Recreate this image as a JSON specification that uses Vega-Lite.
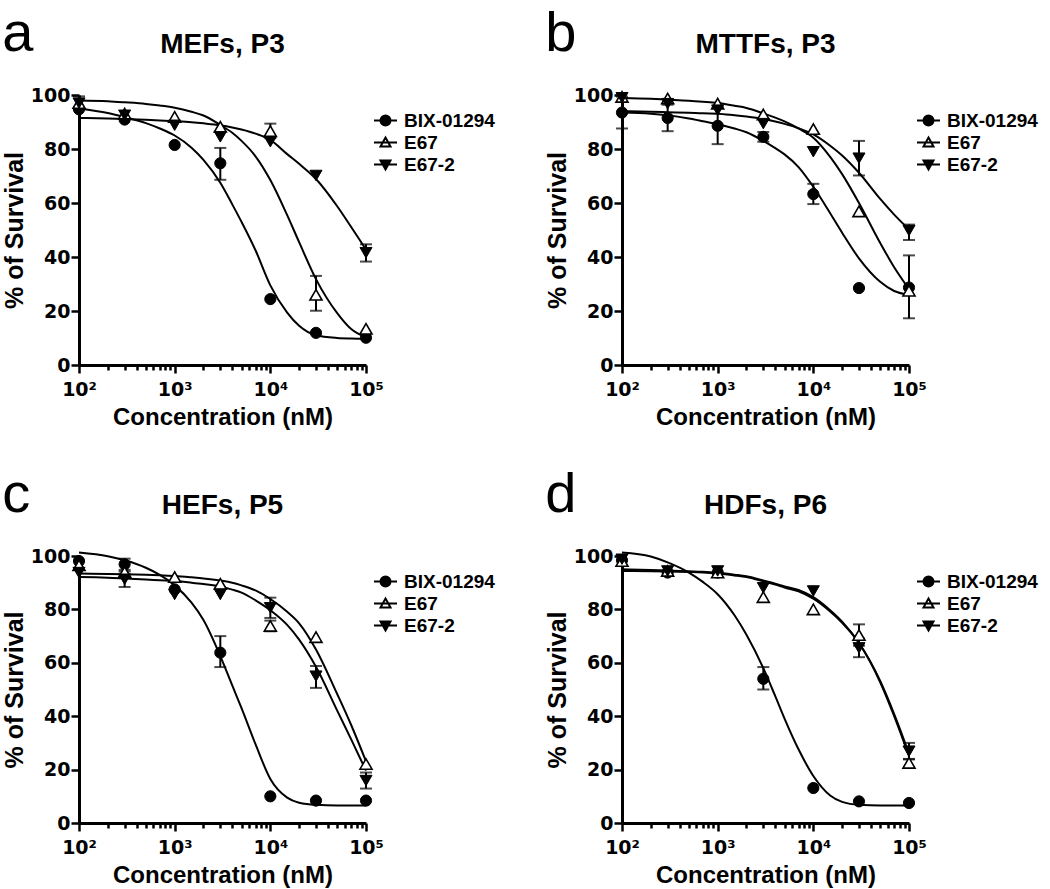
{
"$schema": "https://vega.github.io/schema/vega-lite/v6.json",
"background": "white",
"padding": {"left": 2, "top": 6, "right": 2, "bottom": 2},
"config": {
  "font": "Liberation Sans",
  "view": {"stroke": null},
  "axis": {"domainColor": "black", "domainWidth": 3, "tickColor": "black", "tickWidth": 2.5, "labelColor": "black", "labelFont": "DejaVu Sans", "labelFontSize": 19, "labelFontWeight": "bold", "titleColor": "black", "titleFont": "Liberation Sans", "titleFontWeight": "bold", "grid": false},
  "axisX": {"titleFontSize": 24},
  "axisY": {"titleFontSize": 25},
  "title": {"color": "black", "font": "Liberation Sans"},
  "legend": {"title": null, "orient": "right", "offset": -10, "padding": 16, "symbolSize": 100, "symbolStrokeWidth": 2, "symbolStrokeColor": "black", "labelFontSize": 19, "labelFontWeight": "bold", "labelFont": "Liberation Sans", "labelColor": "black", "labelOffset": 9, "rowPadding": 2, "symbolOpacity": 1}
},
"datasets": {
"pts": [
{"p":"a","s":"BIX-01294","x":100,"y":94.7},{"p":"a","s":"BIX-01294","x":300,"y":90.9},{"p":"a","s":"BIX-01294","x":1000,"y":81.5},{"p":"a","s":"BIX-01294","x":3000,"y":74.7,"lo":68.6,"hi":80.4},{"p":"a","s":"BIX-01294","x":10000,"y":24.4},{"p":"a","s":"BIX-01294","x":30000,"y":11.9},{"p":"a","s":"BIX-01294","x":100000,"y":10.1},
{"p":"a","s":"E67","x":100,"y":97},{"p":"a","s":"E67","x":300,"y":93.1},{"p":"a","s":"E67","x":1000,"y":91.9},{"p":"a","s":"E67","x":3000,"y":88.2},{"p":"a","s":"E67","x":10000,"y":86.6,"lo":84,"hi":89.4},{"p":"a","s":"E67","x":30000,"y":26,"lo":20.1,"hi":33},{"p":"a","s":"E67","x":100000,"y":13.4},
{"p":"a","s":"E67-2","x":100,"y":97,"lo":94.5,"hi":99.5},{"p":"a","s":"E67-2","x":300,"y":92.5},{"p":"a","s":"E67-2","x":1000,"y":88.8},{"p":"a","s":"E67-2","x":3000,"y":84.5},{"p":"a","s":"E67-2","x":10000,"y":82.7},{"p":"a","s":"E67-2","x":30000,"y":70.2},{"p":"a","s":"E67-2","x":100000,"y":41.6,"lo":38.3,"hi":44.7},
{"p":"b","s":"BIX-01294","x":100,"y":93.5,"lo":87.6,"hi":99.4},{"p":"b","s":"BIX-01294","x":300,"y":91.5,"lo":86.6,"hi":96.4},{"p":"b","s":"BIX-01294","x":1000,"y":88.6,"lo":81.8,"hi":95.4},{"p":"b","s":"BIX-01294","x":3000,"y":84.5,"lo":82.7,"hi":86.3},{"p":"b","s":"BIX-01294","x":10000,"y":63.3,"lo":59.6,"hi":67.1},{"p":"b","s":"BIX-01294","x":30000,"y":28.5},{"p":"b","s":"BIX-01294","x":100000,"y":28.7,"lo":17.3,"hi":40.6},
{"p":"b","s":"E67","x":100,"y":99.3},{"p":"b","s":"E67","x":300,"y":98.7},{"p":"b","s":"E67","x":1000,"y":96.8},{"p":"b","s":"E67","x":3000,"y":92.8},{"p":"b","s":"E67","x":10000,"y":87.4},{"p":"b","s":"E67","x":30000,"y":56.9},{"p":"b","s":"E67","x":100000,"y":27.5},
{"p":"b","s":"E67-2","x":100,"y":99},{"p":"b","s":"E67-2","x":300,"y":96.8},{"p":"b","s":"E67-2","x":1000,"y":94.4},{"p":"b","s":"E67-2","x":3000,"y":89.4},{"p":"b","s":"E67-2","x":10000,"y":79},{"p":"b","s":"E67-2","x":30000,"y":76.6,"lo":70.2,"hi":83},{"p":"b","s":"E67-2","x":100000,"y":49.8,"lo":46.3,"hi":52},
{"p":"c","s":"BIX-01294","x":100,"y":98.1},{"p":"c","s":"BIX-01294","x":300,"y":96.9,"lo":94.8,"hi":99},{"p":"c","s":"BIX-01294","x":1000,"y":87.5},{"p":"c","s":"BIX-01294","x":3000,"y":63.8,"lo":58.4,"hi":70},{"p":"c","s":"BIX-01294","x":10000,"y":10},{"p":"c","s":"BIX-01294","x":30000,"y":8.4},{"p":"c","s":"BIX-01294","x":100000,"y":8.4},
{"p":"c","s":"E67","x":100,"y":96.5},{"p":"c","s":"E67","x":300,"y":94},{"p":"c","s":"E67","x":1000,"y":92.1},{"p":"c","s":"E67","x":3000,"y":89.6},{"p":"c","s":"E67","x":10000,"y":73.8,"lo":71.8,"hi":75.8},{"p":"c","s":"E67","x":30000,"y":69.6},{"p":"c","s":"E67","x":100000,"y":22.1},
{"p":"c","s":"E67-2","x":100,"y":93.8},{"p":"c","s":"E67-2","x":300,"y":91.3,"lo":88.4,"hi":94.2},{"p":"c","s":"E67-2","x":1000,"y":85.6},{"p":"c","s":"E67-2","x":3000,"y":85.6},{"p":"c","s":"E67-2","x":10000,"y":80.6,"lo":76.8,"hi":84.4},{"p":"c","s":"E67-2","x":30000,"y":55,"lo":50.6,"hi":58.8},{"p":"c","s":"E67-2","x":100000,"y":15.9,"lo":12.9,"hi":18.9},
{"p":"d","s":"BIX-01294","x":100,"y":98.4},{"p":"d","s":"BIX-01294","x":300,"y":93.8},{"p":"d","s":"BIX-01294","x":1000,"y":93.8},{"p":"d","s":"BIX-01294","x":3000,"y":54,"lo":50,"hi":58.4},{"p":"d","s":"BIX-01294","x":10000,"y":13.1},{"p":"d","s":"BIX-01294","x":30000,"y":8.1},{"p":"d","s":"BIX-01294","x":100000,"y":7.5},
{"p":"d","s":"E67","x":100,"y":98.1},{"p":"d","s":"E67","x":300,"y":94.4},{"p":"d","s":"E67","x":1000,"y":93.8},{"p":"d","s":"E67","x":3000,"y":84.6},{"p":"d","s":"E67","x":10000,"y":80},{"p":"d","s":"E67","x":30000,"y":70.4,"lo":66.4,"hi":74.4},{"p":"d","s":"E67","x":100000,"y":22.5,"lo":21,"hi":24},
{"p":"d","s":"E67-2","x":100,"y":98.8},{"p":"d","s":"E67-2","x":300,"y":94.4},{"p":"d","s":"E67-2","x":1000,"y":94.4},{"p":"d","s":"E67-2","x":3000,"y":88.1},{"p":"d","s":"E67-2","x":10000,"y":86.9},{"p":"d","s":"E67-2","x":30000,"y":65.6,"lo":62.1,"hi":69.1},{"p":"d","s":"E67-2","x":100000,"y":26.9,"lo":23.8,"hi":30}
],
"curves": [
{"p":"a","x":100,"BIX-01294":95.0,"E67":98,"E67-2":91.5},{"p":"a","x":200,"BIX-01294":93.3,"E67":97.7,"E67-2":91.3},{"p":"a","x":300,"BIX-01294":91.8,"E67":97.3,"E67-2":91.1},{"p":"a","x":500,"BIX-01294":89.6,"E67":96.7,"E67-2":90.8},{"p":"a","x":700,"BIX-01294":87.6,"E67":96.1,"E67-2":90.6},{"p":"a","x":1000,"BIX-01294":85,"E67":95.3,"E67-2":90.3},{"p":"a","x":1500,"BIX-01294":80.5,"E67":93.8,"E67-2":89.9},{"p":"a","x":2000,"BIX-01294":76,"E67":92.4,"E67-2":89.5},{"p":"a","x":3000,"BIX-01294":67.5,"E67":88.9,"E67-2":88.8},{"p":"a","x":4000,"BIX-01294":59.5,"E67":86,"E67-2":88},{"p":"a","x":5000,"BIX-01294":53,"E67":83,"E67-2":87.2},{"p":"a","x":7000,"BIX-01294":42.5,"E67":77.3,"E67-2":85.7},{"p":"a","x":10000,"BIX-01294":29.5,"E67":68.5,"E67-2":83.4},{"p":"a","x":15000,"BIX-01294":19.4,"E67":55.5,"E67-2":78.1},{"p":"a","x":20000,"BIX-01294":14.5,"E67":45.5,"E67-2":74.5},{"p":"a","x":30000,"BIX-01294":11,"E67":31.8,"E67-2":68.9},{"p":"a","x":50000,"BIX-01294":10,"E67":19.2,"E67-2":58.8},{"p":"a","x":70000,"BIX-01294":9.8,"E67":13.3,"E67-2":51.1},{"p":"a","x":100000,"BIX-01294":9.7,"E67":10.2,"E67-2":42.8},
{"p":"b","x":100,"BIX-01294":93.5,"E67":98.9,"E67-2":94},{"p":"b","x":200,"BIX-01294":93.1,"E67":98.6,"E67-2":93.8},{"p":"b","x":300,"BIX-01294":92.5,"E67":98.3,"E67-2":93.6},{"p":"b","x":500,"BIX-01294":91.3,"E67":97.9,"E67-2":93.4},{"p":"b","x":700,"BIX-01294":90.3,"E67":97.5,"E67-2":93.2},{"p":"b","x":1000,"BIX-01294":89.2,"E67":97,"E67-2":93.1},{"p":"b","x":1500,"BIX-01294":87.6,"E67":96,"E67-2":92.5},{"p":"b","x":2000,"BIX-01294":86.2,"E67":95.2,"E67-2":92},{"p":"b","x":3000,"BIX-01294":83,"E67":93.2,"E67-2":91.1},{"p":"b","x":4000,"BIX-01294":80.3,"E67":91.6,"E67-2":90.2},{"p":"b","x":5000,"BIX-01294":78,"E67":90.2,"E67-2":89.3},{"p":"b","x":7000,"BIX-01294":73.3,"E67":87.6,"E67-2":87.7},{"p":"b","x":10000,"BIX-01294":66,"E67":84.2,"E67-2":85.4},{"p":"b","x":15000,"BIX-01294":56.2,"E67":77.1,"E67-2":81.2},{"p":"b","x":20000,"BIX-01294":49,"E67":70.7,"E67-2":77.6},{"p":"b","x":30000,"BIX-01294":39.5,"E67":60,"E67-2":71.2},{"p":"b","x":50000,"BIX-01294":30.8,"E67":45.2,"E67-2":61.5},{"p":"b","x":70000,"BIX-01294":27.4,"E67":36.2,"E67-2":55.7},{"p":"b","x":100000,"BIX-01294":26,"E67":28.1,"E67-2":50.2},
{"p":"c","x":100,"BIX-01294":101.3,"E67":93.4,"E67-2":92.1},{"p":"c","x":200,"BIX-01294":99.9,"E67":93.3,"E67-2":91.9},{"p":"c","x":300,"BIX-01294":98.4,"E67":93.2,"E67-2":91.6},{"p":"c","x":500,"BIX-01294":95.6,"E67":93,"E67-2":91.2},{"p":"c","x":700,"BIX-01294":92.9,"E67":92.8,"E67-2":90.9},{"p":"c","x":1000,"BIX-01294":89,"E67":92.5,"E67-2":90.6},{"p":"c","x":1500,"BIX-01294":82.5,"E67":92,"E67-2":90},{"p":"c","x":2000,"BIX-01294":76,"E67":91.6,"E67-2":89.5},{"p":"c","x":3000,"BIX-01294":62.5,"E67":90.8,"E67-2":88.6},{"p":"c","x":4000,"BIX-01294":51.5,"E67":90,"E67-2":87.4},{"p":"c","x":5000,"BIX-01294":43,"E67":89,"E67-2":86.3},{"p":"c","x":7000,"BIX-01294":29.5,"E67":87.1,"E67-2":83.4},{"p":"c","x":10000,"BIX-01294":16.5,"E67":83.9,"E67-2":79.7},{"p":"c","x":15000,"BIX-01294":9.5,"E67":79.1,"E67-2":74.2},{"p":"c","x":20000,"BIX-01294":7.6,"E67":74.8,"E67-2":68.7},{"p":"c","x":30000,"BIX-01294":6.8,"E67":65,"E67-2":58.5},{"p":"c","x":50000,"BIX-01294":6.6,"E67":48.3,"E67-2":42.1},{"p":"c","x":70000,"BIX-01294":6.6,"E67":36.7,"E67-2":31.3},{"p":"c","x":100000,"BIX-01294":6.6,"E67":23.1,"E67-2":19.6},
{"p":"d","x":100,"BIX-01294":101.3,"E67":94.4,"E67-2":95},{"p":"d","x":200,"BIX-01294":99.8,"E67":94.3,"E67-2":94.8},{"p":"d","x":300,"BIX-01294":97.6,"E67":94.2,"E67-2":94.6},{"p":"d","x":500,"BIX-01294":93.8,"E67":94,"E67-2":94.3},{"p":"d","x":700,"BIX-01294":90.3,"E67":93.8,"E67-2":94.1},{"p":"d","x":1000,"BIX-01294":85.7,"E67":93.4,"E67-2":93.7},{"p":"d","x":1500,"BIX-01294":77.8,"E67":92.7,"E67-2":93},{"p":"d","x":2000,"BIX-01294":70.5,"E67":92.1,"E67-2":92.4},{"p":"d","x":3000,"BIX-01294":58,"E67":90.5,"E67-2":90.8},{"p":"d","x":4000,"BIX-01294":47.5,"E67":89.3,"E67-2":89.6},{"p":"d","x":5000,"BIX-01294":39.1,"E67":88.2,"E67-2":88.6},{"p":"d","x":7000,"BIX-01294":27.6,"E67":86.8,"E67-2":87.3},{"p":"d","x":10000,"BIX-01294":17.6,"E67":84,"E67-2":84.6},{"p":"d","x":15000,"BIX-01294":10.3,"E67":79.2,"E67-2":79.7},{"p":"d","x":20000,"BIX-01294":7.9,"E67":75,"E67-2":75.4},{"p":"d","x":30000,"BIX-01294":6.8,"E67":67.4,"E67-2":67.4},{"p":"d","x":50000,"BIX-01294":6.6,"E67":53.2,"E67-2":52.7},{"p":"d","x":70000,"BIX-01294":6.6,"E67":40.8,"E67-2":40},{"p":"d","x":100000,"BIX-01294":6.6,"E67":26,"E67-2":25}
]
},
"spacing": 38,
"resolve": {"scale": {"shape": "independent", "fill": "independent"}},
"vconcat": [
{"hconcat": [
{"title": {"text": "a", "anchor": "start", "fontSize": 56, "fontWeight": "normal", "offset": -32},
 "resolve": {"scale": {"shape": "independent", "fill": "independent"}},
 "vconcat": [{
  "width": 287, "height": 270,
  "title": {"text": "MEFs, P3", "anchor": "middle", "frame": "group", "fontSize": 28, "fontWeight": "bold", "offset": 27},
  "layer": [
   {"data": {"name": "curves"}, "transform": [{"filter": "datum.p === 'a'"}, {"fold": ["BIX-01294", "E67", "E67-2"], "as": ["s", "v"]}],
    "mark": {"type": "line", "interpolate": "monotone", "color": "black", "strokeWidth": 2},
    "encoding": {
     "x": {"field": "x", "type": "quantitative", "title": "Concentration (nM)", "scale": {"type": "log", "domain": [100, 100000], "nice": false}, "axis": {"values": [100,200,300,400,500,600,700,800,900,1000,2000,3000,4000,5000,6000,7000,8000,9000,10000,20000,30000,40000,50000,60000,70000,80000,90000,100000], "labelExpr": "datum.value == 100 ? '10²' : datum.value == 1000 ? '10³' : datum.value == 10000 ? '10⁴' : datum.value == 100000 ? '10⁵' : ''", "labelOverlap": false, "labelFlush": false, "tickSize": {"condition": {"test": "datum.value == 100 || datum.value == 1000 || datum.value == 10000 || datum.value == 100000", "value": 8}, "value": 5}, "labelPadding": 7, "titlePadding": 6}},
     "y": {"field": "v", "type": "quantitative", "title": "% of Survival", "scale": {"domain": [0, 100], "nice": false}, "axis": {"values": [0, 20, 40, 60, 80, 100], "tickSize": 8, "labelPadding": 1, "titlePadding": 3}},
     "detail": {"field": "s"}}},
   {"data": {"name": "pts"}, "transform": [{"filter": "datum.p === 'a' && isValid(datum.lo)"}],
    "mark": {"type": "errorbar", "ticks": {"size": 12, "thickness": 2, "color": "black"}, "rule": {"strokeWidth": 2, "color": "black"}},
    "encoding": {"x": {"field": "x", "type": "quantitative", "title": "Concentration (nM)"}, "y": {"field": "lo", "type": "quantitative", "title": "% of Survival"}, "y2": {"field": "hi"}}},
   {"data": {"name": "pts"}, "transform": [{"filter": "datum.p === 'a' && datum.s === 'BIX-01294'"}],
    "mark": {"type": "point", "shape": "circle", "filled": true, "fill": "black", "stroke": "black", "strokeWidth": 1, "size": 125, "opacity": 1},
    "encoding": {"x": {"field": "x", "type": "quantitative", "title": "Concentration (nM)"}, "y": {"field": "y", "type": "quantitative", "title": "% of Survival"}}},
   {"data": {"name": "pts"}, "transform": [{"filter": "datum.p === 'a' && datum.s === 'E67'"}],
    "mark": {"type": "point", "shape": "triangle-up", "filled": true, "fill": "white", "stroke": "black", "strokeWidth": 1.6, "size": 145, "opacity": 1},
    "encoding": {"x": {"field": "x", "type": "quantitative", "title": "Concentration (nM)"}, "y": {"field": "y", "type": "quantitative", "title": "% of Survival"}}},
   {"data": {"name": "pts"}, "transform": [{"filter": "datum.p === 'a' && datum.s === 'E67-2'"}],
    "mark": {"type": "point", "shape": "triangle-down", "filled": true, "fill": "black", "stroke": "black", "strokeWidth": 1, "size": 145, "opacity": 1},
    "encoding": {"x": {"field": "x", "type": "quantitative", "title": "Concentration (nM)"}, "y": {"field": "y", "type": "quantitative", "title": "% of Survival"}}},
   {"data": {"name": "pts"}, "transform": [{"filter": "false"}],
    "mark": {"type": "point", "filled": false, "color": "black", "stroke": "black", "strokeWidth": 2, "opacity": 1},
    "encoding": {"x": {"field": "x", "type": "quantitative", "title": "Concentration (nM)"}, "y": {"field": "y", "type": "quantitative", "title": "% of Survival"},
     "shape": {"field": "s", "type": "nominal", "scale": {"domain": ["BIX-01294", "E67", "E67-2"], "range": ["M-2.3,0L2.3,0M1,0A1,1,0,1,1,-1,0A1,1,0,1,1,1,0Z", "M-2.3,0L2.3,0M0,-1L1,0.8L-1,0.8Z", "M-2.3,0L2.3,0M0,1L1,-0.8L-1,-0.8Z"]}, "legend": {"encode": {"symbols": {"update": {"stroke": {"value": "black"}, "strokeWidth": {"value": 2}}}}}},
     "fill": {"field": "s", "type": "nominal", "scale": {"domain": ["BIX-01294", "E67", "E67-2"], "range": ["black", "white", "black"]}, "legend": {"encode": {"symbols": {"update": {"stroke": {"value": "black"}, "strokeWidth": {"value": 2}}}}}}}}
  ]
 }]
},
{"title": {"text": "b", "anchor": "start", "fontSize": 56, "fontWeight": "normal", "offset": -32},
 "resolve": {"scale": {"shape": "independent", "fill": "independent"}},
 "vconcat": [{
  "width": 287, "height": 270,
  "title": {"text": "MTTFs, P3", "anchor": "middle", "frame": "group", "fontSize": 28, "fontWeight": "bold", "offset": 27},
  "layer": [
   {"data": {"name": "curves"}, "transform": [{"filter": "datum.p === 'b'"}, {"fold": ["BIX-01294", "E67", "E67-2"], "as": ["s", "v"]}],
    "mark": {"type": "line", "interpolate": "monotone", "color": "black", "strokeWidth": 2},
    "encoding": {
     "x": {"field": "x", "type": "quantitative", "title": "Concentration (nM)", "scale": {"type": "log", "domain": [100, 100000], "nice": false}, "axis": {"values": [100,200,300,400,500,600,700,800,900,1000,2000,3000,4000,5000,6000,7000,8000,9000,10000,20000,30000,40000,50000,60000,70000,80000,90000,100000], "labelExpr": "datum.value == 100 ? '10²' : datum.value == 1000 ? '10³' : datum.value == 10000 ? '10⁴' : datum.value == 100000 ? '10⁵' : ''", "labelOverlap": false, "labelFlush": false, "tickSize": {"condition": {"test": "datum.value == 100 || datum.value == 1000 || datum.value == 10000 || datum.value == 100000", "value": 8}, "value": 5}, "labelPadding": 7, "titlePadding": 6}},
     "y": {"field": "v", "type": "quantitative", "title": "% of Survival", "scale": {"domain": [0, 100], "nice": false}, "axis": {"values": [0, 20, 40, 60, 80, 100], "tickSize": 8, "labelPadding": 1, "titlePadding": 3}},
     "detail": {"field": "s"}}},
   {"data": {"name": "pts"}, "transform": [{"filter": "datum.p === 'b' && isValid(datum.lo)"}],
    "mark": {"type": "errorbar", "ticks": {"size": 12, "thickness": 2, "color": "black"}, "rule": {"strokeWidth": 2, "color": "black"}},
    "encoding": {"x": {"field": "x", "type": "quantitative", "title": "Concentration (nM)"}, "y": {"field": "lo", "type": "quantitative", "title": "% of Survival"}, "y2": {"field": "hi"}}},
   {"data": {"name": "pts"}, "transform": [{"filter": "datum.p === 'b' && datum.s === 'BIX-01294'"}],
    "mark": {"type": "point", "shape": "circle", "filled": true, "fill": "black", "stroke": "black", "strokeWidth": 1, "size": 125, "opacity": 1},
    "encoding": {"x": {"field": "x", "type": "quantitative", "title": "Concentration (nM)"}, "y": {"field": "y", "type": "quantitative", "title": "% of Survival"}}},
   {"data": {"name": "pts"}, "transform": [{"filter": "datum.p === 'b' && datum.s === 'E67'"}],
    "mark": {"type": "point", "shape": "triangle-up", "filled": true, "fill": "white", "stroke": "black", "strokeWidth": 1.6, "size": 145, "opacity": 1},
    "encoding": {"x": {"field": "x", "type": "quantitative", "title": "Concentration (nM)"}, "y": {"field": "y", "type": "quantitative", "title": "% of Survival"}}},
   {"data": {"name": "pts"}, "transform": [{"filter": "datum.p === 'b' && datum.s === 'E67-2'"}],
    "mark": {"type": "point", "shape": "triangle-down", "filled": true, "fill": "black", "stroke": "black", "strokeWidth": 1, "size": 145, "opacity": 1},
    "encoding": {"x": {"field": "x", "type": "quantitative", "title": "Concentration (nM)"}, "y": {"field": "y", "type": "quantitative", "title": "% of Survival"}}},
   {"data": {"name": "pts"}, "transform": [{"filter": "false"}],
    "mark": {"type": "point", "filled": false, "color": "black", "stroke": "black", "strokeWidth": 2, "opacity": 1},
    "encoding": {"x": {"field": "x", "type": "quantitative", "title": "Concentration (nM)"}, "y": {"field": "y", "type": "quantitative", "title": "% of Survival"},
     "shape": {"field": "s", "type": "nominal", "scale": {"domain": ["BIX-01294", "E67", "E67-2"], "range": ["M-2.3,0L2.3,0M1,0A1,1,0,1,1,-1,0A1,1,0,1,1,1,0Z", "M-2.3,0L2.3,0M0,-1L1,0.8L-1,0.8Z", "M-2.3,0L2.3,0M0,1L1,-0.8L-1,-0.8Z"]}, "legend": {"encode": {"symbols": {"update": {"stroke": {"value": "black"}, "strokeWidth": {"value": 2}}}}}},
     "fill": {"field": "s", "type": "nominal", "scale": {"domain": ["BIX-01294", "E67", "E67-2"], "range": ["black", "white", "black"]}, "legend": {"encode": {"symbols": {"update": {"stroke": {"value": "black"}, "strokeWidth": {"value": 2}}}}}}}}
  ]
 }]
}
], "spacing": 34, "resolve": {"scale": {"shape": "independent", "fill": "independent"}}},
{"hconcat": [
{"title": {"text": "c", "anchor": "start", "fontSize": 56, "fontWeight": "normal", "offset": -32},
 "resolve": {"scale": {"shape": "independent", "fill": "independent"}},
 "vconcat": [{
  "width": 287, "height": 267,
  "title": {"text": "HEFs, P5", "anchor": "middle", "frame": "group", "fontSize": 28, "fontWeight": "bold", "offset": 27},
  "layer": [
   {"data": {"name": "curves"}, "transform": [{"filter": "datum.p === 'c'"}, {"fold": ["BIX-01294", "E67", "E67-2"], "as": ["s", "v"]}],
    "mark": {"type": "line", "interpolate": "monotone", "color": "black", "strokeWidth": 2},
    "encoding": {
     "x": {"field": "x", "type": "quantitative", "title": "Concentration (nM)", "scale": {"type": "log", "domain": [100, 100000], "nice": false}, "axis": {"values": [100,200,300,400,500,600,700,800,900,1000,2000,3000,4000,5000,6000,7000,8000,9000,10000,20000,30000,40000,50000,60000,70000,80000,90000,100000], "labelExpr": "datum.value == 100 ? '10²' : datum.value == 1000 ? '10³' : datum.value == 10000 ? '10⁴' : datum.value == 100000 ? '10⁵' : ''", "labelOverlap": false, "labelFlush": false, "tickSize": {"condition": {"test": "datum.value == 100 || datum.value == 1000 || datum.value == 10000 || datum.value == 100000", "value": 8}, "value": 5}, "labelPadding": 7, "titlePadding": 6}},
     "y": {"field": "v", "type": "quantitative", "title": "% of Survival", "scale": {"domain": [0, 100], "nice": false}, "axis": {"values": [0, 20, 40, 60, 80, 100], "tickSize": 8, "labelPadding": 1, "titlePadding": 3}},
     "detail": {"field": "s"}}},
   {"data": {"name": "pts"}, "transform": [{"filter": "datum.p === 'c' && isValid(datum.lo)"}],
    "mark": {"type": "errorbar", "ticks": {"size": 12, "thickness": 2, "color": "black"}, "rule": {"strokeWidth": 2, "color": "black"}},
    "encoding": {"x": {"field": "x", "type": "quantitative", "title": "Concentration (nM)"}, "y": {"field": "lo", "type": "quantitative", "title": "% of Survival"}, "y2": {"field": "hi"}}},
   {"data": {"name": "pts"}, "transform": [{"filter": "datum.p === 'c' && datum.s === 'BIX-01294'"}],
    "mark": {"type": "point", "shape": "circle", "filled": true, "fill": "black", "stroke": "black", "strokeWidth": 1, "size": 125, "opacity": 1},
    "encoding": {"x": {"field": "x", "type": "quantitative", "title": "Concentration (nM)"}, "y": {"field": "y", "type": "quantitative", "title": "% of Survival"}}},
   {"data": {"name": "pts"}, "transform": [{"filter": "datum.p === 'c' && datum.s === 'E67'"}],
    "mark": {"type": "point", "shape": "triangle-up", "filled": true, "fill": "white", "stroke": "black", "strokeWidth": 1.6, "size": 145, "opacity": 1},
    "encoding": {"x": {"field": "x", "type": "quantitative", "title": "Concentration (nM)"}, "y": {"field": "y", "type": "quantitative", "title": "% of Survival"}}},
   {"data": {"name": "pts"}, "transform": [{"filter": "datum.p === 'c' && datum.s === 'E67-2'"}],
    "mark": {"type": "point", "shape": "triangle-down", "filled": true, "fill": "black", "stroke": "black", "strokeWidth": 1, "size": 145, "opacity": 1},
    "encoding": {"x": {"field": "x", "type": "quantitative", "title": "Concentration (nM)"}, "y": {"field": "y", "type": "quantitative", "title": "% of Survival"}}},
   {"data": {"name": "pts"}, "transform": [{"filter": "false"}],
    "mark": {"type": "point", "filled": false, "color": "black", "stroke": "black", "strokeWidth": 2, "opacity": 1},
    "encoding": {"x": {"field": "x", "type": "quantitative", "title": "Concentration (nM)"}, "y": {"field": "y", "type": "quantitative", "title": "% of Survival"},
     "shape": {"field": "s", "type": "nominal", "scale": {"domain": ["BIX-01294", "E67", "E67-2"], "range": ["M-2.3,0L2.3,0M1,0A1,1,0,1,1,-1,0A1,1,0,1,1,1,0Z", "M-2.3,0L2.3,0M0,-1L1,0.8L-1,0.8Z", "M-2.3,0L2.3,0M0,1L1,-0.8L-1,-0.8Z"]}, "legend": {"encode": {"symbols": {"update": {"stroke": {"value": "black"}, "strokeWidth": {"value": 2}}}}}},
     "fill": {"field": "s", "type": "nominal", "scale": {"domain": ["BIX-01294", "E67", "E67-2"], "range": ["black", "white", "black"]}, "legend": {"encode": {"symbols": {"update": {"stroke": {"value": "black"}, "strokeWidth": {"value": 2}}}}}}}}
  ]
 }]
},
{"title": {"text": "d", "anchor": "start", "fontSize": 56, "fontWeight": "normal", "offset": -32},
 "resolve": {"scale": {"shape": "independent", "fill": "independent"}},
 "vconcat": [{
  "width": 287, "height": 267,
  "title": {"text": "HDFs, P6", "anchor": "middle", "frame": "group", "fontSize": 28, "fontWeight": "bold", "offset": 27},
  "layer": [
   {"data": {"name": "curves"}, "transform": [{"filter": "datum.p === 'd'"}, {"fold": ["BIX-01294", "E67", "E67-2"], "as": ["s", "v"]}],
    "mark": {"type": "line", "interpolate": "monotone", "color": "black", "strokeWidth": 2},
    "encoding": {
     "x": {"field": "x", "type": "quantitative", "title": "Concentration (nM)", "scale": {"type": "log", "domain": [100, 100000], "nice": false}, "axis": {"values": [100,200,300,400,500,600,700,800,900,1000,2000,3000,4000,5000,6000,7000,8000,9000,10000,20000,30000,40000,50000,60000,70000,80000,90000,100000], "labelExpr": "datum.value == 100 ? '10²' : datum.value == 1000 ? '10³' : datum.value == 10000 ? '10⁴' : datum.value == 100000 ? '10⁵' : ''", "labelOverlap": false, "labelFlush": false, "tickSize": {"condition": {"test": "datum.value == 100 || datum.value == 1000 || datum.value == 10000 || datum.value == 100000", "value": 8}, "value": 5}, "labelPadding": 7, "titlePadding": 6}},
     "y": {"field": "v", "type": "quantitative", "title": "% of Survival", "scale": {"domain": [0, 100], "nice": false}, "axis": {"values": [0, 20, 40, 60, 80, 100], "tickSize": 8, "labelPadding": 1, "titlePadding": 3}},
     "detail": {"field": "s"}}},
   {"data": {"name": "pts"}, "transform": [{"filter": "datum.p === 'd' && isValid(datum.lo)"}],
    "mark": {"type": "errorbar", "ticks": {"size": 12, "thickness": 2, "color": "black"}, "rule": {"strokeWidth": 2, "color": "black"}},
    "encoding": {"x": {"field": "x", "type": "quantitative", "title": "Concentration (nM)"}, "y": {"field": "lo", "type": "quantitative", "title": "% of Survival"}, "y2": {"field": "hi"}}},
   {"data": {"name": "pts"}, "transform": [{"filter": "datum.p === 'd' && datum.s === 'BIX-01294'"}],
    "mark": {"type": "point", "shape": "circle", "filled": true, "fill": "black", "stroke": "black", "strokeWidth": 1, "size": 125, "opacity": 1},
    "encoding": {"x": {"field": "x", "type": "quantitative", "title": "Concentration (nM)"}, "y": {"field": "y", "type": "quantitative", "title": "% of Survival"}}},
   {"data": {"name": "pts"}, "transform": [{"filter": "datum.p === 'd' && datum.s === 'E67'"}],
    "mark": {"type": "point", "shape": "triangle-up", "filled": true, "fill": "white", "stroke": "black", "strokeWidth": 1.6, "size": 145, "opacity": 1},
    "encoding": {"x": {"field": "x", "type": "quantitative", "title": "Concentration (nM)"}, "y": {"field": "y", "type": "quantitative", "title": "% of Survival"}}},
   {"data": {"name": "pts"}, "transform": [{"filter": "datum.p === 'd' && datum.s === 'E67-2'"}],
    "mark": {"type": "point", "shape": "triangle-down", "filled": true, "fill": "black", "stroke": "black", "strokeWidth": 1, "size": 145, "opacity": 1},
    "encoding": {"x": {"field": "x", "type": "quantitative", "title": "Concentration (nM)"}, "y": {"field": "y", "type": "quantitative", "title": "% of Survival"}}},
   {"data": {"name": "pts"}, "transform": [{"filter": "false"}],
    "mark": {"type": "point", "filled": false, "color": "black", "stroke": "black", "strokeWidth": 2, "opacity": 1},
    "encoding": {"x": {"field": "x", "type": "quantitative", "title": "Concentration (nM)"}, "y": {"field": "y", "type": "quantitative", "title": "% of Survival"},
     "shape": {"field": "s", "type": "nominal", "scale": {"domain": ["BIX-01294", "E67", "E67-2"], "range": ["M-2.3,0L2.3,0M1,0A1,1,0,1,1,-1,0A1,1,0,1,1,1,0Z", "M-2.3,0L2.3,0M0,-1L1,0.8L-1,0.8Z", "M-2.3,0L2.3,0M0,1L1,-0.8L-1,-0.8Z"]}, "legend": {"encode": {"symbols": {"update": {"stroke": {"value": "black"}, "strokeWidth": {"value": 2}}}}}},
     "fill": {"field": "s", "type": "nominal", "scale": {"domain": ["BIX-01294", "E67", "E67-2"], "range": ["black", "white", "black"]}, "legend": {"encode": {"symbols": {"update": {"stroke": {"value": "black"}, "strokeWidth": {"value": 2}}}}}}}}
  ]
 }]
}
], "spacing": 34, "resolve": {"scale": {"shape": "independent", "fill": "independent"}}}
]
}
